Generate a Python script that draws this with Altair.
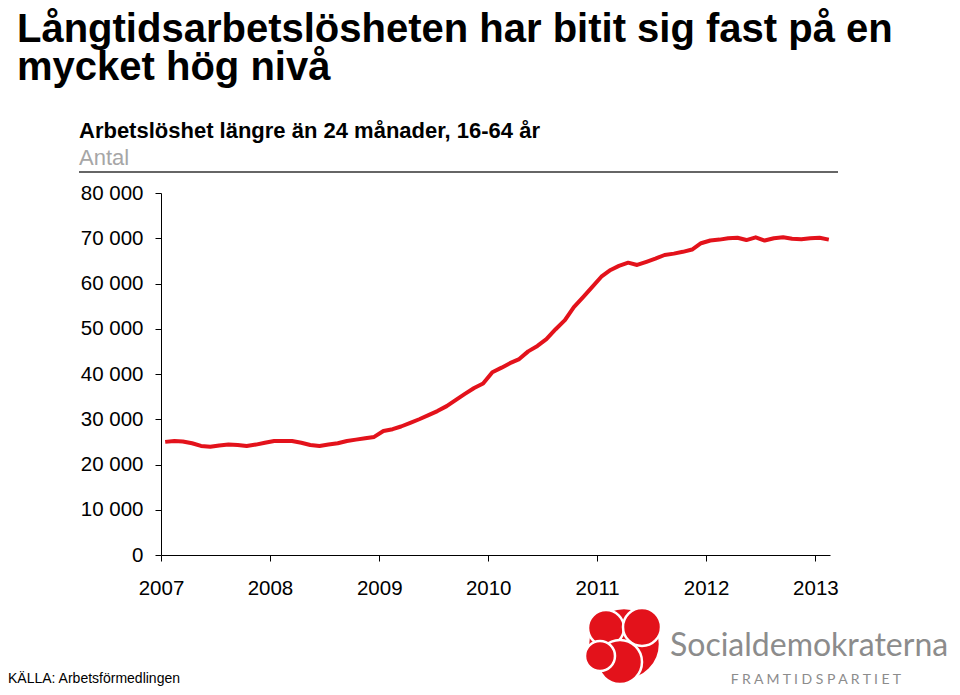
import altair as alt
import pandas as pd

# ---- data ----
values_2007 = [25000, 25200, 25100, 24700, 24100, 23900, 24200, 24400, 24300, 24100, 24400, 24800]
values_2008 = [25200, 25200, 25200, 24800, 24300, 24100, 24400, 24700, 25200, 25500, 25800, 26100]
values_2009 = [27400, 27800, 28400, 29200, 30000, 30900, 31800, 32900, 34300, 35600, 36900, 37900]
values_2010 = [40400, 41400, 42400, 43300, 45000, 46200, 47700, 49900, 51900, 54800, 57000, 59200]
values_2011 = [61500, 63000, 63900, 64600, 64100, 64800, 65500, 66300, 66600, 67000, 67500, 68900]
values_2012 = [69500, 69700, 70000, 70100, 69600, 70200, 69500, 70000, 70200, 69900, 69800, 70000]
values_2013 = [70100, 69700]
year_ticks = [2007, 2008, 2009, 2010, 2011, 2012, 2013]
y_ticks = [0, 10000, 20000, 30000, 40000, 50000, 60000, 70000, 80000]

title_line1 = "Långtidsarbetslösheten har bitit sig fast på en"
title_line2 = "mycket hög nivå"
subtitle = "Arbetslöshet längre än 24 månader, 16-64 år"
unit_label = "Antal"
source = "KÄLLA: Arbetsförmedlingen"
logo_name = "Socialdemokraterna"
logo_tag = "F R A M T I D S P A R T I E T"

series = {2007: values_2007, 2008: values_2008, 2009: values_2009, 2010: values_2010,
          2011: values_2011, 2012: values_2012, 2013: values_2013}
rows = []
for yr, vals in series.items():
    for i, v in enumerate(vals):
        rows.append({"date": f"{yr}-{i + 1:02d}-15", "value": v})
df = pd.DataFrame(rows)

FONT = "Liberation Sans, Arial, Helvetica, sans-serif"
RED = "#e3121b"

# plot area placement (page coords: x 161..830, y 193..555)
PL, PT = 153, 185
W, H = 669, 362

def px(x):  # page x -> plot x
    return x - 161

def py(y):  # page y -> plot y
    return y - 193

base = alt.Chart(df)

line = base.mark_line(color=RED, strokeWidth=4, strokeJoin="round").encode(
    x=alt.X("date:T",
            scale=alt.Scale(type="utc",
                            domain=[alt.DateTime(year=2007, month=1, date=1, utc=True),
                                    alt.DateTime(year=2013, month=2, date=19, utc=True)]),
            axis=alt.Axis(values=[alt.DateTime(year=y, month=1, date=1, utc=True) for y in year_ticks],
                          format="%Y", title=None, grid=False,
                          domainColor="black", domainWidth=1, tickColor="black", tickSize=6,
                          labelFont=FONT, labelFontSize=20.5, labelColor="black",
                          labelBaseline="middle", labelPadding=27,
                          labelFlush=False, labelOverlap=False)),
    y=alt.Y("value:Q",
            scale=alt.Scale(domain=[0, 80000], nice=False),
            axis=alt.Axis(values=y_ticks, title=None, grid=False,
                          labelExpr="replace(format(datum.value, ','), ',', ' ')",
                          domainColor="black", domainWidth=1, tickColor="black", tickSize=6,
                          labelFont=FONT, labelFontSize=20.5, labelColor="black",
                          labelPadding=12, labelFlush=False, labelOverlap=False)),
)

one = pd.DataFrame({"k": [0]})

def text(t, x, y, size, color="black", weight="normal", font=FONT, align="left", baseline="alphabetic"):
    return alt.Chart(one).mark_text(fontSize=size, color=color, fontWeight=weight, font=font,
                                    align=align, baseline=baseline).encode(
        x=alt.value(px(x)), y=alt.value(py(y)), text=alt.value(t))

title1 = text(title_line1, 17, 42, 40, weight="bold")
title2 = text(title_line2, 17, 80, 40, weight="bold")
sub = text(subtitle, 79, 138, 22, weight="bold")
unit = text(unit_label, 79, 165, 22, color="#a6a6a6")
src = text(source, 8, 683, 14)
logo1 = text(logo_name, 670, 656, 32, color="#8c8c8c", font="Lato, Open Sans, sans-serif")
logo2 = text(logo_tag, 816, 684, 14, color="#8c8c8c", font="Lato, Open Sans, sans-serif", align="center")

rule = alt.Chart(one).mark_rule(color="#333333", strokeWidth=1.5).encode(
    x=alt.value(px(79)), x2=alt.value(px(838)), y=alt.value(py(172)))

petal_x = [624, 606, 642, 620, 600]
petal_y = [644, 628, 627, 662, 656]
petal_d = [72, 36, 38, 44, 30]

def petal(x, y, d):
    return alt.Chart(one).mark_point(shape="circle", filled=True, fill=RED, stroke="white",
                                     strokeWidth=2.5, opacity=1).encode(
        x=alt.value(px(x)), y=alt.value(py(y)), size=alt.value(d * d))

petals = [petal(x, y, d) for x, y, d in zip(petal_x, petal_y, petal_d)]

chart = alt.layer(line, title1, title2, sub, unit, rule, src, logo1, logo2, *petals).properties(
    width=W, height=H,
    autosize=alt.AutoSizeParams(type="none"),
    padding={"left": PL, "top": PT, "right": 944 - PL - W, "bottom": 679 - PT - H},
).configure_view(stroke=None)

chart.save("out.html", embed_options={"renderer": "svg", "actions": False})
